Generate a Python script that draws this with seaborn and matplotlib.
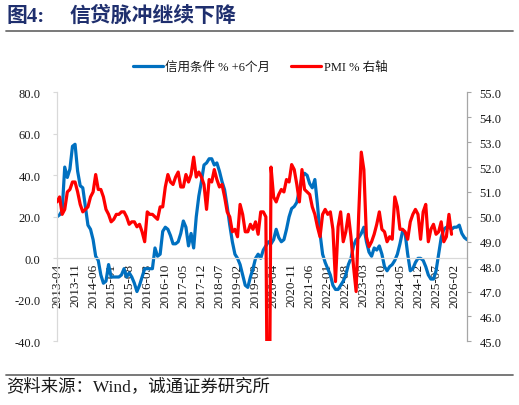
import matplotlib
matplotlib.use("Agg")
import numpy as np
import pandas as pd
import matplotlib.pyplot as plt
import seaborn as sns
from matplotlib.lines import Line2D
from matplotlib.ticker import FormatStrFormatter, MultipleLocator

# monthly categories on the x axis
months = pd.period_range("2013-04", "2026-07", freq="M").strftime("%Y-%m").tolist()
tick_labels = months[::7]

# credit impulse, % (shifted forward 6 months), left axis
credit = [
    20, 21, 23, 44, 39, 43, 54, 55, 42, 35, 34, 25, 16, 14, 9, 1, -1, -8, -12, -11,
    -3, -9, -9, -9, -9, -8, -5, -9, -7, -9, -12, -16, -13, -9, -5, -5, -5, -5, 5, 1,
    2, 13, 15, 14, 11, 7, 7, 8, 12, 18, 15, 6, 12, 5, 20, 30, 37, 45, 46, 48,
    48, 45, 46, 42, 37, 33, 25, 16, 8, 2, 0, -3, -8, -13, -14, -9, -5, 0, 2, 0,
    4, 6, 8, 7, 9, 14, 10, 8, 9, 14, 20, 24, 25, 27, 33, 39, 41, 40, 36, 34,
    38, 26, 12, 2, -2, -5, -8, -13, -15, -15, -13, -11, -8, -3, 0, 6, 9, 10, 12, 15,
    8, 3, 1, 5, 4, 6, 2, -4, -6, -4, -3, -1, 2, 7, 13, 12, 2, -6, -5, -2,
    0, 0, -1, -4, -8, -10, -10, -6, 2, 10, 14, 15, 15, 14, 15, 15, 16, 12, 10, 9,
]

# manufacturing PMI, right axis
pmi = [
    50.6, 50.8, 50.1, 50.3, 51.0, 51.1, 51.4, 51.4, 51.0, 50.5, 50.2, 50.3, 50.4, 50.8, 51.0, 51.7,
    51.1, 51.1, 50.8, 50.3, 50.1, 49.8, 49.9, 50.1, 50.1, 50.2, 50.2, 50.0, 49.7, 49.8, 49.8, 49.6,
    49.7, 49.4, 49.0, 50.2, 50.1, 50.1, 50.0, 49.9, 50.4, 50.4, 51.2, 51.7, 51.4, 51.3, 51.6, 51.8,
    51.2, 51.2, 51.7, 51.4, 51.7, 52.4, 51.6, 51.8, 51.6, 51.3, 50.3, 51.5, 51.4, 51.9, 51.5, 51.2,
    51.3, 50.8, 50.2, 50.0, 49.4, 49.5, 49.2, 50.5, 50.1, 49.4, 49.4, 49.7, 49.5, 49.8, 49.3, 50.2,
    50.2, 50.0, 35.7, 52.0, 50.8, 50.6, 50.9, 51.1, 51.0, 51.5, 51.4, 52.1, 51.9, 51.3, 50.6, 51.9,
    51.1, 51.0, 50.9, 50.4, 50.1, 49.6, 49.2, 50.1, 50.3, 50.1, 50.2, 49.5, 47.4, 49.6, 50.2, 49.0,
    49.4, 50.1, 49.2, 48.0, 47.0, 50.1, 52.6, 51.9, 49.2, 48.8, 49.0, 49.3, 49.7, 50.2, 49.5, 49.4,
    49.0, 49.2, 49.1, 50.8, 50.4, 49.5, 49.5, 49.4, 49.1, 49.8, 50.1, 50.3, 50.1, 49.1, 50.2, 50.5,
    49.0, 49.5, 49.7, 49.3, 49.4, 49.8, 49.0, 49.2, 50.1, 49.3,
]

W, H = 519, 406
BLUE = "#0070C0"
RED = "#FF0000"
LABEL_FAMILY = ["Liberation Serif", "Noto Sans CJK SC"]

sns.set_theme(style="white")
plt.rcParams["font.family"] = LABEL_FAMILY
plt.rcParams["axes.unicode_minus"] = False

df_credit = pd.DataFrame({"pos": np.arange(len(credit)), "credit": credit})
df_pmi = pd.DataFrame({"pos": np.arange(len(pmi)), "pmi": pmi})

fig = plt.figure(figsize=(W / 100, H / 100), dpi=100)
ax = fig.add_axes([57 / W, 1 - 342.3 / H, 410 / W, 248.9 / H])
ax2 = ax.twinx()

sns.lineplot(data=df_credit, x="pos", y="credit", ax=ax, color=BLUE, linewidth=2.3, legend=False)
sns.lineplot(data=df_pmi, x="pos", y="pmi", ax=ax2, color=RED, linewidth=2.3, legend=False)

# left axis; the category axis crosses at 0
for side in ["top", "right"]:
    ax.spines[side].set_visible(False)
ax.spines["bottom"].set_position(("data", 0))
ax.spines["left"].set_color("#D9D9D9")
ax.spines["bottom"].set_color("#D9D9D9")
ax.spines["left"].set_linewidth(0.9)
ax.spines["bottom"].set_linewidth(0.9)
ax.set_axisbelow(True)  # lines run over the date labels, as in Excel

ax.set_xlim(0, len(months) - 1)
ax.set_ylim(-40, 80)
ax.yaxis.set_major_locator(MultipleLocator(20))
ax.yaxis.set_major_formatter(FormatStrFormatter("%.1f"))
ax.tick_params(axis="y", left=True, length=3, width=0.8, color="#D9D9D9", pad=9,
               labelsize=9, labelcolor="#1A1A1A")
ax.set_xticks(range(0, len(months), 7))
ax.set_xticklabels(tick_labels)
ax.tick_params(axis="x", bottom=True, length=0, pad=3, labelrotation=90,
               labelsize=9.5, labelcolor="#1A1A1A")
ax.set_xlabel("")
ax.set_ylabel("")

# right axis
ax2.set_ylim(45, 55)
ax2.yaxis.set_major_locator(MultipleLocator(1))
ax2.yaxis.set_major_formatter(FormatStrFormatter("%.1f"))
ax2.tick_params(axis="y", right=True, length=3, width=0.8, color="#A6A6A6", pad=6,
                labelsize=9, labelcolor="#1A1A1A")
ax2.set_ylabel("")
for side in ["top", "left", "bottom"]:
    ax2.spines[side].set_visible(False)
ax2.spines["right"].set_color("#A6A6A6")
ax2.spines["right"].set_linewidth(0.9)

# legend
handles = [
    Line2D([], [], color=BLUE, linewidth=2.3),
    Line2D([], [], color=RED, linewidth=2.3),
]
fig.legend(handles, ["信用条件 % +6个月", "PMI % 右轴"], loc="center",
           bbox_to_anchor=(260 / W, 1 - 68 / H), ncol=2, frameon=False,
           fontsize=9, handlelength=2.4, handletextpad=0.2, columnspacing=1.7,
           labelcolor="#1A1A1A")

# title and source
fig.text(6 / W, 1 - 17 / H, "图4:", fontsize=15, fontweight="bold", color="#1F2F6E",
         va="center", ha="left")
fig.text(70 / W, 1 - 17 / H, "信贷脉冲继续下降", fontsize=15, fontweight="bold",
         color="#1F2F6E", va="center", ha="left")
fig.add_artist(Line2D([6 / W, 513 / W], [1 - 32 / H] * 2, color="#6E6E6E", linewidth=1.3))
fig.add_artist(Line2D([6 / W, 513 / W], [1 - 376 / H] * 2, color="#6E6E6E", linewidth=1.3))
fig.text(6 / W, 1 - 387 / H, "资料来源：Wind，诚通证券研究所", fontsize=12.5, color="#1A1A1A",
         va="center", ha="left")

fig.savefig("out.png", dpi=100)
